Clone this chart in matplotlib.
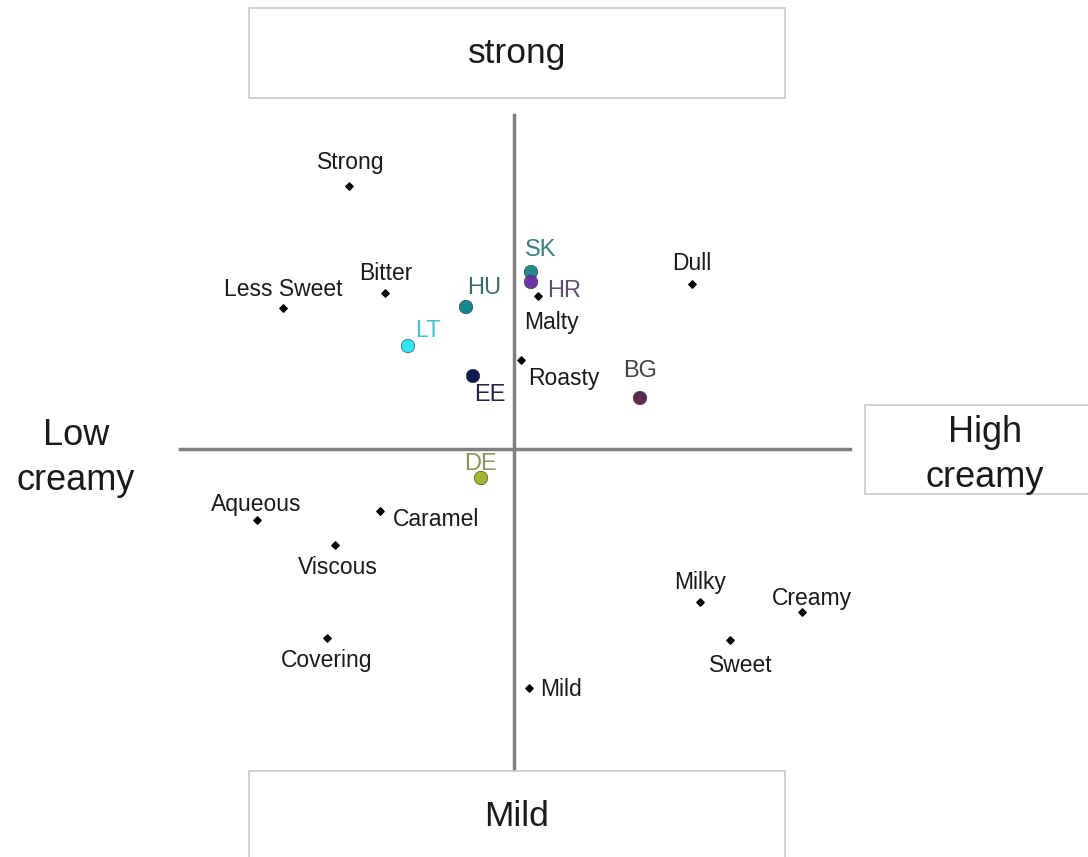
import matplotlib
matplotlib.use("Agg")
import matplotlib.pyplot as plt
from matplotlib.patches import Rectangle

# Attribute positions on the perceptual map (creaminess x, strength y)
attributes = ["Strong", "Bitter", "Less Sweet", "Dull", "Malty", "Roasty",
              "Aqueous", "Caramel", "Viscous", "Covering", "Milky", "Creamy",
              "Sweet", "Mild"]
attr_x = [-1.65, -1.29, -2.31, 1.78, 0.24, 0.07,
          -2.57, -1.34, -1.79, -1.87, 1.86, 2.88, 2.16, 0.15]
attr_y = [2.63, 1.56, 1.41, 1.65, 1.53, 0.89,
          -0.71, -0.62, -0.96, -1.89, -1.53, -1.63, -1.91, -2.39]

# Country positions
countries = ["SK", "HR", "HU", "LT", "EE", "BG", "DE"]
country_x = [0.17, 0.17, -0.48, -1.06, -0.41, 1.26, -0.33]
country_y = [1.77, 1.67, 1.42, 1.03, 0.73, 0.51, -0.29]
country_colors = ["#23898c", "#6b35a3", "#17868f", "#33e3f2", "#0f1a4f", "#5b2a4f", "#a3b531"]
country_label_colors = ["#3a7f7f", "#5f5070", "#3d6b6b", "#45c3c6", "#25254a", "#444444", "#8e9160"]

# Label offsets in pixels (dx, dy)
attr_offsets = [(2, 23), (1, 20), (0, 19), (0, 21), (13, -27), (43, -19),
                (-1, 16), (56, -9), (3, -22), (0, -23), (0, 20), (10, 13),
                (11, -25), (32, -2)]
country_offsets = [(10, 22), (33, -9), (18, 19), (20, 15), (17, -19), (0, 27), (-1, 14)]

FONT = "Liberation Sans"

fig = plt.figure(figsize=(10.88, 8.57), dpi=100)
ax = fig.add_axes([0, 0, 1, 1])
ax.set_xlim(-5.14, 5.74)
ax.set_ylim(-4.08, 4.49)
ax.axis("off")

# Quadrant axes
ax.plot([-3.34, 3.36], [0, 0], color="#808080", lw=2.5, zorder=1)
ax.plot([0, 0], [-3.21, 3.34], color="#808080", lw=2.5, zorder=1)

# Pole boxes
box_kw = dict(facecolor="white", edgecolor="#c8c8c8", lw=1.2, zorder=2)
ax.add_patch(Rectangle((-2.65, 3.51), 5.36, 0.90, **box_kw))
ax.add_patch(Rectangle((-2.65, -4.20), 5.36, 0.98, **box_kw))
ax.add_patch(Rectangle((3.51, -0.45), 2.40, 0.89, **box_kw))

ax.text(0.03, 3.95, "strong", ha="center", va="center", fontsize=25.5, family=FONT, color="#1a1a1a")
ax.text(0.03, -3.68, "Mild", ha="center", va="center", fontsize=25.5, family=FONT, color="#1a1a1a")
ax.text(4.71, -0.06, "High\ncreamy", ha="center", va="center", fontsize=26, family=FONT,
        color="#1a1a1a", linespacing=1.35)
ax.text(-4.38, -0.09, "Low\ncreamy", ha="center", va="center", fontsize=26, family=FONT,
        color="#1a1a1a", linespacing=1.35)

# Attributes
ax.scatter(attr_x, attr_y, marker="D", s=14, color="black", zorder=3)
for name, x, y, (dx, dy) in zip(attributes, attr_x, attr_y, attr_offsets):
    ax.annotate(name, (x, y), xytext=(dx, dy), textcoords="offset pixels",
                ha="center", va="center", fontsize=16.5, family=FONT, color="#1a1a1a")

# Countries
ax.scatter(country_x, country_y, s=95, c=country_colors, edgecolors="#333333",
           linewidths=0.4, zorder=4)
for name, x, y, (dx, dy), col in zip(countries, country_x, country_y,
                                      country_offsets, country_label_colors):
    ax.annotate(name, (x, y), xytext=(dx, dy), textcoords="offset pixels",
                ha="center", va="center", fontsize=17, family=FONT, color=col, zorder=5)

fig.savefig("out.png", dpi=100, facecolor="white")
